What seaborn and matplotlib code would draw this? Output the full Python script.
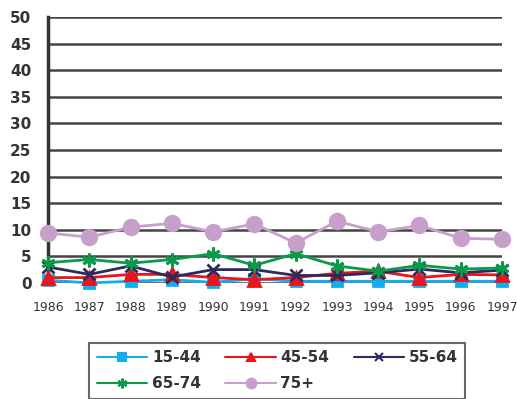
import matplotlib
matplotlib.use('Agg')
import matplotlib.pyplot as plt
import seaborn as sns
import pandas as pd

years = [1986, 1987, 1988, 1989, 1990, 1991, 1992, 1993, 1994, 1995, 1996, 1997]
groups = ['15-44', '45-54', '55-64', '65-74', '75+']
v_15_44 = [0.5, 0.0, 0.3, 0.6, 0.1, 0.8, 0.3, 0.3, 0.3, 0.3, 0.3, 0.3]
v_45_54 = [1.0, 1.0, 1.6, 1.6, 1.0, 0.6, 1.0, 1.8, 2.2, 1.0, 1.6, 1.5]
v_55_64 = [3.0, 1.6, 3.2, 1.1, 2.5, 2.5, 1.4, 1.4, 1.9, 2.6, 1.9, 2.4]
v_65_74 = [3.8, 4.4, 3.7, 4.4, 5.5, 3.3, 5.5, 3.2, 2.2, 3.3, 2.6, 2.8]
v_75 = [9.4, 8.6, 10.5, 11.2, 9.6, 11.1, 7.5, 11.6, 9.6, 10.8, 8.4, 8.2]

colors = ['#12AEEB', '#E8141E', '#2E2A5E', '#0C9A4A', '#C6A0CB']
markers = ['s', '^', 'x', (6, 2, 0), 'o']
msizes = [7.5, 9, 9, 10, 10.5]
lmsizes = [6, 6, 6, 7, 7]

df = pd.DataFrame({
    'year': years * 5,
    'group': sum([[g] * len(years) for g in groups], []),
    'value': v_15_44 + v_45_54 + v_55_64 + v_65_74 + v_75,
})

sns.set_theme(style='white')
plt.rcParams['font.family'] = ['DejaVu Sans']

fig = plt.figure(figsize=(5.17, 3.99), dpi=100)
ax = fig.add_axes([0.093, 0.291, 0.878, 0.666])

for g, c, m, ms in zip(groups, colors, markers, msizes):
    sub = df[df['group'] == g]
    sns.lineplot(data=sub, x='year', y='value', ax=ax, color=c, marker=m,
                 markersize=ms, markeredgecolor=c, markeredgewidth=2,
                 linewidth=2, clip_on=False, legend=False, zorder=3)

ax.set_xlim(1986, 1997)
ax.set_ylim(0, 50)
ax.set_yticks(range(0, 51, 5))
ax.set_xticks(years)
ax.set_xticklabels([str(y) for y in years], fontsize=9, color='#333333')
ax.set_yticklabels([str(v) for v in range(0, 51, 5)], fontsize=11,
                   fontweight='bold', color='#333333')
ax.set_xlabel('')
ax.set_ylabel('')
ax.yaxis.grid(True, color='#444444', linewidth=1.8)
ax.set_axisbelow(True)
for s in ['top', 'right', 'bottom']:
    ax.spines[s].set_visible(False)
ax.spines['left'].set_color('#333333')
ax.spines['left'].set_linewidth(2.5)
ax.tick_params(axis='x', length=3, width=1, color='#333333', pad=10)
ax.tick_params(axis='y', length=0, pad=12)

handles = [plt.Line2D([], [], color=c, marker=m, markersize=ms,
                      markeredgecolor=c, markeredgewidth=1.5, linewidth=1.5)
           for c, m, ms in zip(colors, markers, lmsizes)]
# legend fills column by column; reorder so rows read 15-44, 45-54, 55-64 / 65-74, 75+
order = [0, 3, 1, 4, 2]
leg = fig.legend([handles[i] for i in order], [groups[i] for i in order],
                 loc='upper left', bbox_to_anchor=(0.158, 0.16), ncol=3,
                 frameon=True, fancybox=False, edgecolor='#444444',
                 fontsize=11, handlelength=3.3, handletextpad=0.3,
                 columnspacing=1.6, labelspacing=0.7, borderpad=0.5)
leg.get_frame().set_linewidth(1.5)
for t in leg.get_texts():
    t.set_fontweight('bold')
    t.set_color('#333333')

fig.savefig('out.png', dpi=100)
